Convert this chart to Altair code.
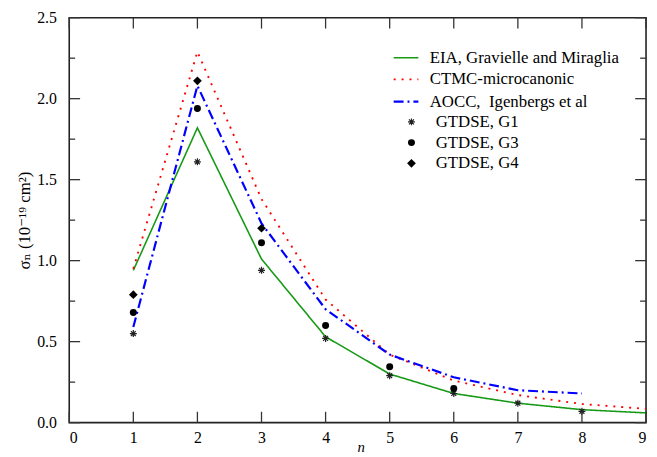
import altair as alt
import pandas as pd

# ---- data ----
n_vals = [1, 2, 3, 4, 5, 6, 7, 8, 9]
eia = [0.94, 1.82, 1.01, 0.53, 0.30, 0.18, 0.12, 0.08, 0.06]
ctmc = [0.95, 2.29, 1.38, 0.76, 0.42, 0.26, 0.17, 0.115, 0.085]
aocc_n = [1, 2, 3, 4, 5, 6, 7, 8]
aocc = [0.59, 2.08, 1.23, 0.70, 0.42, 0.28, 0.20, 0.18]

g1_n = [1, 2, 3, 4, 5, 6, 7, 8]
g1 = [0.55, 1.61, 0.94, 0.52, 0.29, 0.18, 0.12, 0.07]
g3_n = [1, 2, 3, 4, 5, 6]
g3 = [0.68, 1.94, 1.11, 0.60, 0.345, 0.21]
g4_n = [1, 2, 3]
g4 = [0.79, 2.11, 1.20]

line_names = ["EIA, Gravielle and Miraglia", "CTMC-microcanonic", "AOCC,\u00a0 Igenbergs et al"]
point_names = ["GTDSE, G1", "GTDSE, G3", "GTDSE, G4"]

x_ticks = [0, 1, 2, 3, 4, 5, 6, 7, 8, 9]
y_major = [0.0, 0.5, 1.0, 1.5, 2.0, 2.5]
y_minor = [0.25, 0.75, 1.25, 1.75, 2.25]

# ---- tables ----
rows = []
for name, xs, ys in zip(line_names, [n_vals, n_vals, aocc_n], [eia, ctmc, aocc]):
    for i, (a, b) in enumerate(zip(xs, ys)):
        rows.append({"series": name, "n": a, "v": b, "o": i})
lines_df = pd.DataFrame(rows)

g1_df = pd.DataFrame({"group": point_names[0], "n": g1_n, "v": g1})
prow = []
for name, xs, ys in zip(point_names[1:], [g3_n, g4_n], [g3, g4]):
    for a, b in zip(xs, ys):
        prow.append({"group": name, "n": a, "v": b})
g34_df = pd.DataFrame(prow)

xt_df = pd.DataFrame({"t": x_ticks})
ymaj_df = pd.DataFrame({"t": y_major})
ymin_df = pd.DataFrame({"t": y_minor})

W, H = 584, 410
FONT = "Times New Roman, Liberation Serif, DejaVu Serif, serif"

xscale = alt.Scale(domain=[0, 9], nice=False, zero=False)
yscale = alt.Scale(domain=[0, 2.5], nice=False)

xaxis = alt.Axis(values=x_ticks, format="d", ticks=False, domain=False, grid=False,
                 labelFont=FONT, labelFontSize=16, labelPadding=7, labelColor="black",
                 title="n", titleFont=FONT, titleFontStyle="italic", titleFontWeight="normal",
                 titleFontSize=15, titlePadding=-6, titleColor="black", titleX=295)
yaxis = alt.Axis(values=y_major, format=".1f", ticks=False, domain=False, grid=False,
                 labelFont=FONT, labelFontSize=16, labelPadding=13, labelColor="black",
                 title="σₙ (10⁻¹⁹ cm²)", titleFont=FONT, titleFontWeight="normal",
                 titleFontSize=17, titlePadding=3, titleColor="black")

lines = alt.Chart(lines_df).mark_line().encode(
    x=alt.X("n:Q", scale=xscale, axis=xaxis),
    y=alt.Y("v:Q", scale=yscale, axis=yaxis),
    order="o:Q",
    color=alt.Color("series:N",
                    scale=alt.Scale(domain=line_names, range=["#169a16", "#ff0000", "#0000ff"]),
                    legend=alt.Legend(orient="none", legendX=327, legendY=27, title=None,
                                      symbolType="stroke", symbolSize=625, symbolStrokeWidth=2,
                                      labelFont=FONT, labelFontSize=17, labelColor="black",
                                      labelOffset=10, rowPadding=0, labelLimit=400)),
    strokeDash=alt.StrokeDash("series:N",
                              scale=alt.Scale(domain=line_names, range=[[1, 0], [2, 6], [10, 4, 2, 4]])),
    strokeWidth=alt.StrokeWidth("series:N",
                                scale=alt.Scale(domain=line_names, range=[1.6, 2.2, 2.0]),
                                legend=None),
)

asterisk = "M0,-1L0,1M-1,0L1,0M-0.7,-0.7L0.7,0.7M-0.7,0.7L0.7,-0.7"
diamond = "M0,-1.25L1.25,0L0,1.25L-1.25,0Z"

pts_g1 = alt.Chart(g1_df).mark_point(filled=False, color="#222222", strokeWidth=1.2,
                                     opacity=1, size=50).encode(
    x=alt.X("n:Q", scale=xscale),
    y=alt.Y("v:Q", scale=yscale),
    shape=alt.Shape("group:N",
                    scale=alt.Scale(domain=point_names[:1], range=[asterisk]),
                    legend=alt.Legend(orient="none", legendX=338, legendY=97, title=None,
                                      symbolSize=50, symbolStrokeColor="#222222",
                                      symbolStrokeWidth=1.2,
                                      labelFont=FONT, labelFontSize=17, labelColor="black",
                                      labelOffset=16)),
)

pts_g34 = alt.Chart(g34_df).mark_point(filled=True, color="black", opacity=1, size=50).encode(
    x=alt.X("n:Q", scale=xscale),
    y=alt.Y("v:Q", scale=yscale),
    shape=alt.Shape("group:N",
                    scale=alt.Scale(domain=point_names[1:], range=["circle", diamond]),
                    legend=alt.Legend(orient="none", legendX=338, legendY=118, title=None,
                                      symbolSize=50, symbolFillColor="black",
                                      labelFont=FONT, labelFontSize=17, labelColor="black",
                                      labelOffset=16, rowPadding=3)),
)

tick_col = "#333333"
bottom_t = alt.Chart(xt_df).mark_rule(color=tick_col, strokeWidth=1.3).encode(
    x=alt.X("t:Q", scale=xscale), y=alt.value(H), y2=alt.value(H - 11))
top_t = alt.Chart(xt_df).mark_rule(color=tick_col, strokeWidth=1.3).encode(
    x=alt.X("t:Q", scale=xscale), y=alt.value(0), y2=alt.value(11))
left_t = alt.Chart(ymaj_df).mark_rule(color=tick_col, strokeWidth=1.3).encode(
    y=alt.Y("t:Q", scale=yscale), x=alt.value(0), x2=alt.value(11))
right_t = alt.Chart(ymaj_df).mark_rule(color=tick_col, strokeWidth=1.3).encode(
    y=alt.Y("t:Q", scale=yscale), x=alt.value(W), x2=alt.value(W - 11))
left_m = alt.Chart(ymin_df).mark_rule(color=tick_col, strokeWidth=1.3).encode(
    y=alt.Y("t:Q", scale=yscale), x=alt.value(0), x2=alt.value(6))
right_m = alt.Chart(ymin_df).mark_rule(color=tick_col, strokeWidth=1.3).encode(
    y=alt.Y("t:Q", scale=yscale), x=alt.value(W), x2=alt.value(W - 6))

chart = alt.layer(lines, pts_g1, pts_g34, bottom_t, top_t, left_t, right_t, left_m, right_m
).resolve_scale(shape="independent").resolve_legend(shape="independent").properties(
    width=W, height=H,
    autosize=alt.AutoSizeParams(type="none"),
    padding={"left": 62, "top": 7, "right": 3, "bottom": 32},
    background="white",
).configure(font=FONT).configure_view(stroke="#222222", strokeWidth=1.6).configure_axis(
    labelFont=FONT, titleFont=FONT, grid=False, ticks=False, domain=False,
    labelColor="black", titleColor="black"
).configure_axisY(
    labelFont=FONT, labelPadding=13, titlePadding=3
).configure_axisX(
    labelFont=FONT, labelPadding=7
).configure_legend(labelFont=FONT)

chart.save("out.html", embed_options={"renderer": "svg", "actions": False})
